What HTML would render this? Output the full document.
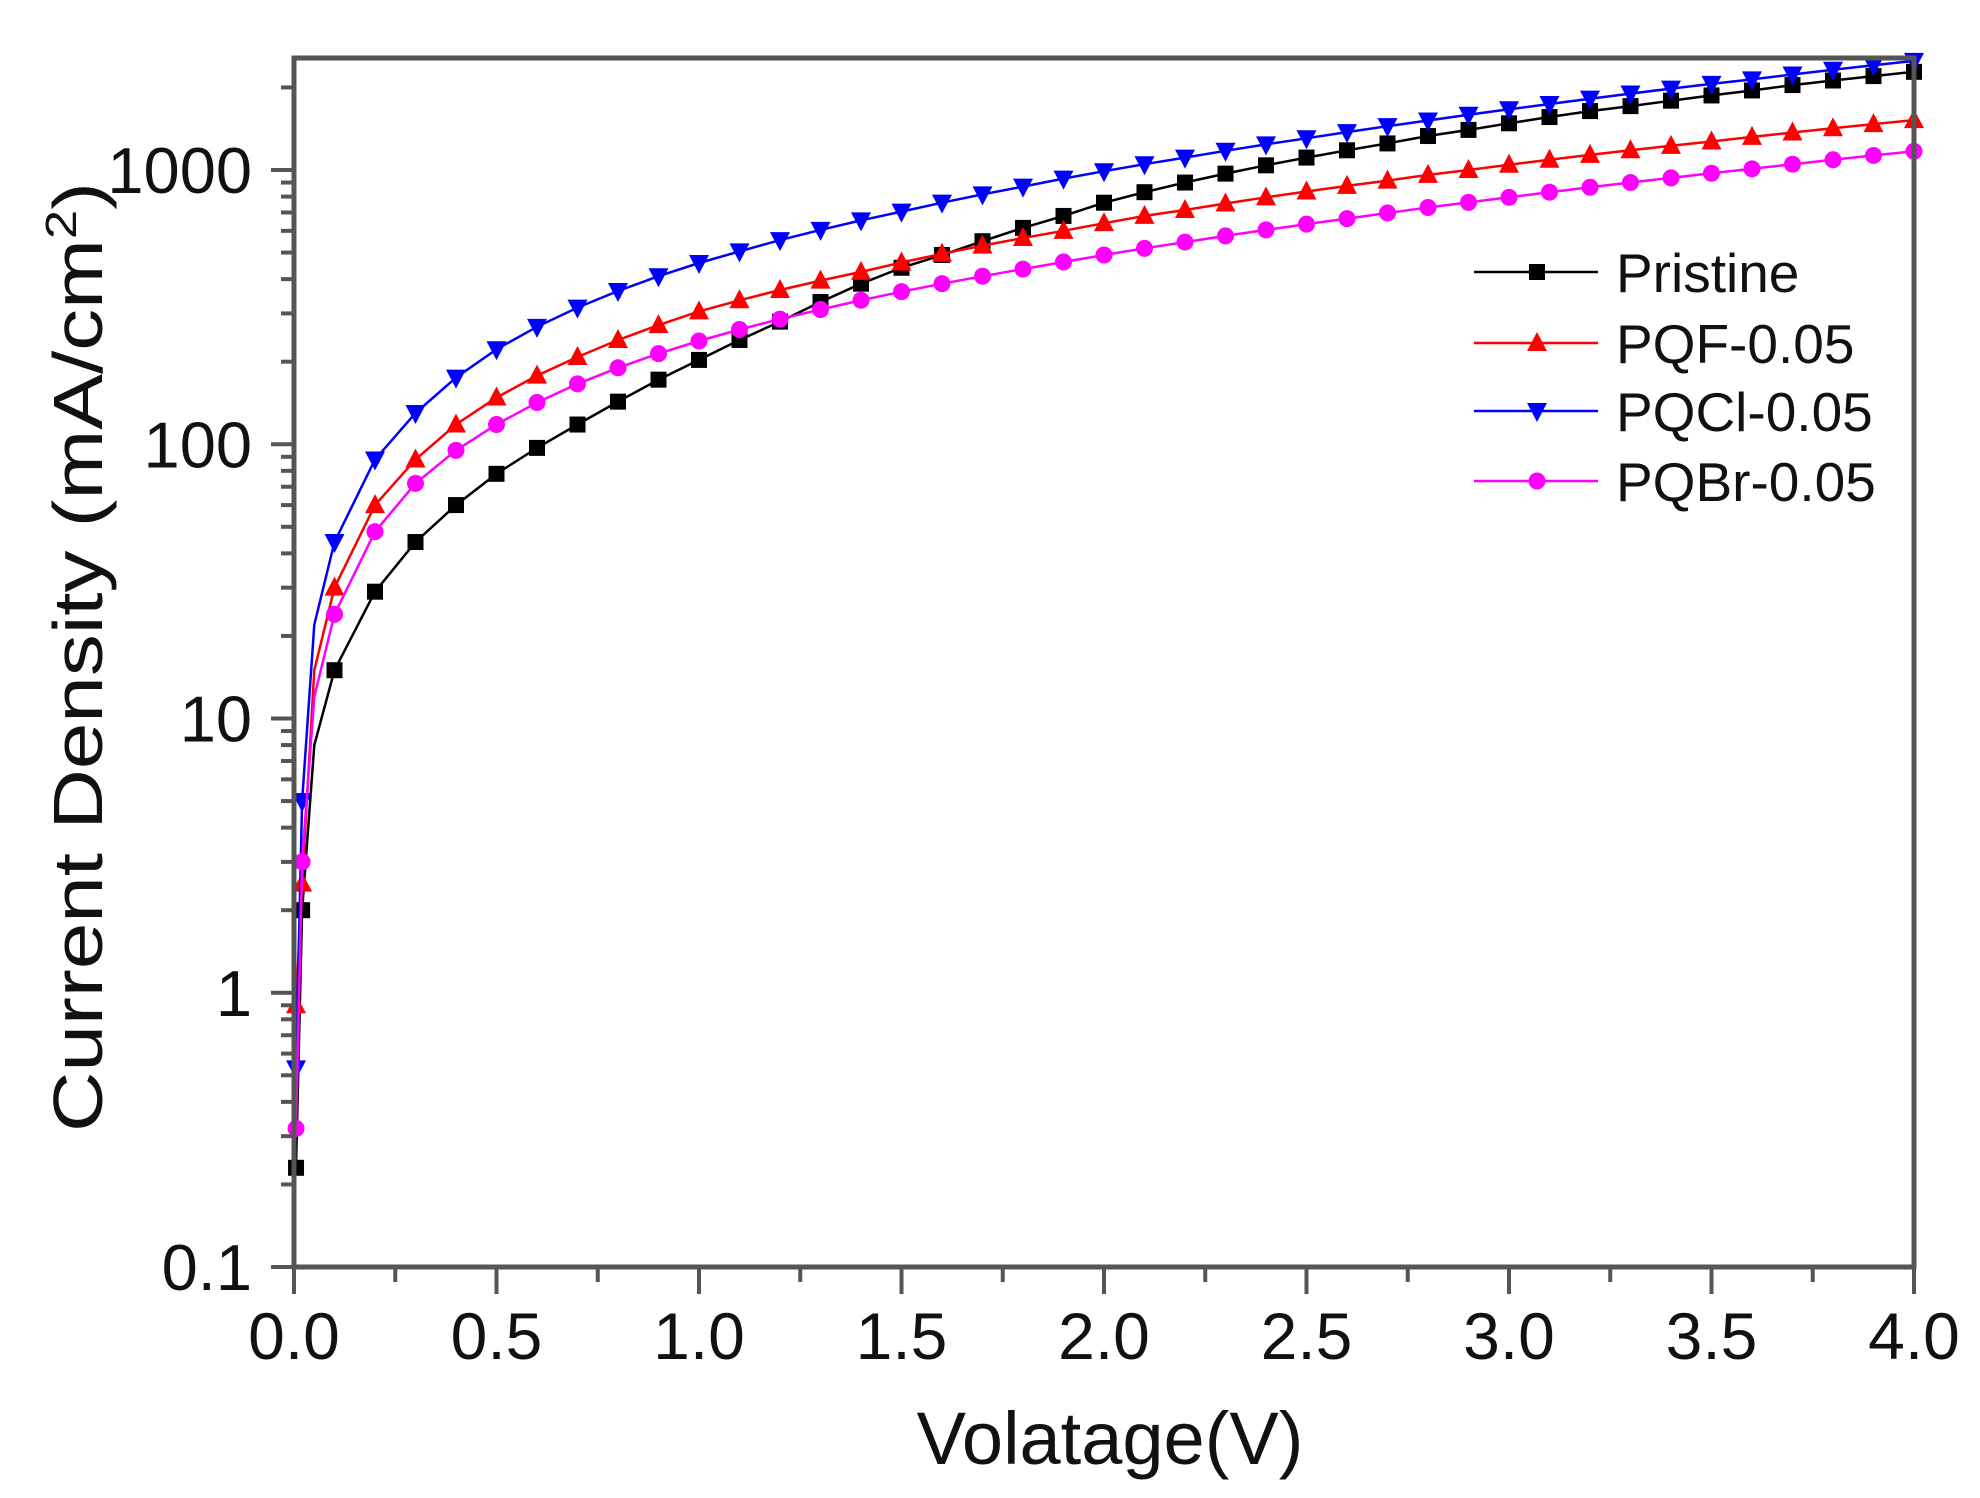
<!DOCTYPE html>
<html><head><meta charset="utf-8"><style>
html,body{margin:0;padding:0;background:#fff;}
svg{display:block;font-family:"Liberation Sans",Arial,sans-serif;}
</style></head><body>
<svg id="chart" width="1980" height="1498" viewBox="0 0 1980 1498" xmlns="http://www.w3.org/2000/svg">
<rect x="0" y="0" width="1980" height="1498" fill="#fff"/>
<g id="grid"></g>
<g id="series"></g>
<g id="axes"></g>
<g id="legend"></g>
</svg>
<script>
const volts = [0.005,0.02,0.05,0.1,0.2,0.3,0.4,0.5,0.6,0.7,0.8,0.9,1.0,1.1,1.2,1.3,1.4,1.5,1.6,1.7,1.8,1.9,2.0,2.1,2.2,2.3,2.4,2.5,2.6,2.7,2.8,2.9,3.0,3.1,3.2,3.3,3.4,3.5,3.6,3.7,3.8,3.9,4.0];
const pristine = [0.23,2,8,15,29,44,60,78,97,118,143,172,203,240,280,330,385,440,490,550,615,680,760,830,900,970,1040,1110,1180,1250,1330,1400,1480,1560,1640,1710,1790,1870,1950,2040,2120,2200,2280];
const pqf = [0.9,2.5,15,30,60,88,118,148,178,208,240,272,305,335,365,395,425,460,495,530,565,600,640,680,715,755,795,835,875,915,960,1000,1045,1090,1135,1180,1225,1270,1320,1370,1420,1470,1520];
const pqcl = [0.53,5,22,44,88,130,175,222,268,315,362,410,458,505,555,605,655,705,760,815,870,930,990,1050,1110,1175,1240,1305,1375,1445,1515,1590,1665,1740,1820,1900,1980,2060,2140,2230,2320,2410,2500];
const pqbr = [0.32,3,12,24,48,72,95,118,142,166,190,214,238,262,286,310,335,360,385,410,435,462,490,518,546,575,605,635,665,697,730,762,795,830,865,900,936,973,1010,1050,1090,1130,1170];
const xTicks = ["0.0","0.5","1.0","1.5","2.0","2.5","3.0","3.5","4.0"];
const yTicks = ["0.1","1","10","100","1000"];
const seriesNames = ["Pristine","PQF-0.05","PQCl-0.05","PQBr-0.05"];

const NS="http://www.w3.org/2000/svg";
const X0=294,X1=1914,Y0=1267,YTOP=58,DEC=274.25;
function xs(v){return X0+(v/4)*(X1-X0);}
function ys(v){return Y0-(Math.log10(v)+1)*DEC;}
function mk(tag,attrs,parent){const e=document.createElementNS(NS,tag);for(const k in attrs)e.setAttribute(k,attrs[k]);parent.appendChild(e);return e;}
const gS=document.getElementById('series'),gA=document.getElementById('axes'),gL=document.getElementById('legend');

function marker(parent,type,cx,cy,color){
  let e;
  if(type==='square'){e=mk('rect',{x:cx-8,y:cy-8,width:16,height:16,fill:color},parent);}
  else if(type==='up'){e=mk('polygon',{points:`${cx},${cy-11} ${cx+10},${cy+8} ${cx-10},${cy+8}`,fill:color},parent);}
  else if(type==='down'){e=mk('polygon',{points:`${cx},${cy+11} ${cx+10},${cy-8} ${cx-10},${cy-8}`,fill:color},parent);}
  else {e=mk('circle',{cx:cx,cy:cy,r:8.5,fill:color},parent);}
  return e;
}
const defs=[[pristine,'#000','square'],[pqf,'#ff0000','up'],[pqcl,'#0000ff','down'],[pqbr,'#ff00ff','circle']];
const clip=mk('clipPath',{id:'pc'},document.getElementById('chart'));
mk('rect',{x:X0-12,y:YTOP-12,width:X1-X0+24,height:Y0-YTOP+12},clip);
defs.forEach((d,si)=>{
  const g=mk('g',{'clip-path':'url(#pc)'},gS);
  
  
  const pts=volts.map((v,i)=>xs(v).toFixed(1)+','+ys(d[0][i]).toFixed(1)).join(' ');
  const pl=mk('polyline',{points:pts,fill:'none',stroke:d[1],'stroke-width':2.5},g);
  
  
  volts.forEach((v,i)=>{
    if(v===0.05)return;
    const m=marker(g,d[2],xs(v),ys(d[0][i]),d[1]);
    
    
  });
});

const frame=mk('rect',{x:X0,y:YTOP,width:X1-X0,height:Y0-YTOP,fill:'none',stroke:'#555','stroke-width':5},gA);


for(let i=0;i<=16;i++){
  const v=i*0.25,x=xs(v),major=i%2===0;
  const t=mk('line',{x1:x,y1:Y0,x2:x,y2:Y0+(major?27:15),stroke:'#555','stroke-width':4},gA);
  
  
}
xTicks.forEach(s=>{
  const t=mk('text',{x:xs(parseFloat(s)),y:1359,'font-size':66,'text-anchor':'middle',fill:'#111'},gA);
  t.textContent=s;
  
  
});
for(let d=-1;d<=3;d++){
  for(let m=1;m<=9;m++){
    const v=m*Math.pow(10,d),y=ys(v);
    if(y<YTOP)break;
    const t=mk('line',{x1:X0,y1:y,x2:X0-(m===1?23:13),y2:y,stroke:'#555','stroke-width':4},gA);
    
    
  }
}
yTicks.forEach(s=>{
  const t=mk('text',{x:252,y:ys(parseFloat(s))+23,'font-size':65,'text-anchor':'end',fill:'#111'},gA);
  t.textContent=s;
  
  
});
const xt=mk('text',{x:1110,y:1464,'font-size':74,'text-anchor':'middle',fill:'#111'},gA);
xt.textContent='Volatage(V)';


const yt=mk('text',{x:0,y:0,'font-size':70,'text-anchor':'middle',fill:'#111',transform:'translate(102,657) rotate(-90)',textLength:950,lengthAdjust:'spacingAndGlyphs'},gA);
yt.innerHTML='Current Density (mA/cm<tspan dy="-26" font-size="44">2</tspan><tspan dy="26">)</tspan>';



const ly=[272,343,411,481];
defs.forEach((d,i)=>{
  const g=mk('g',{},gL);
  
  
  mk('line',{x1:1474,y1:ly[i],x2:1598,y2:ly[i],stroke:d[1],'stroke-width':2.5},g);
  marker(g,d[2],1537,ly[i],d[1]);
  const t=mk('text',{x:1616,y:ly[i]+20,'font-size':55,fill:'#111'},g);
  t.textContent=seriesNames[i];
});
</script>
</body></html>
